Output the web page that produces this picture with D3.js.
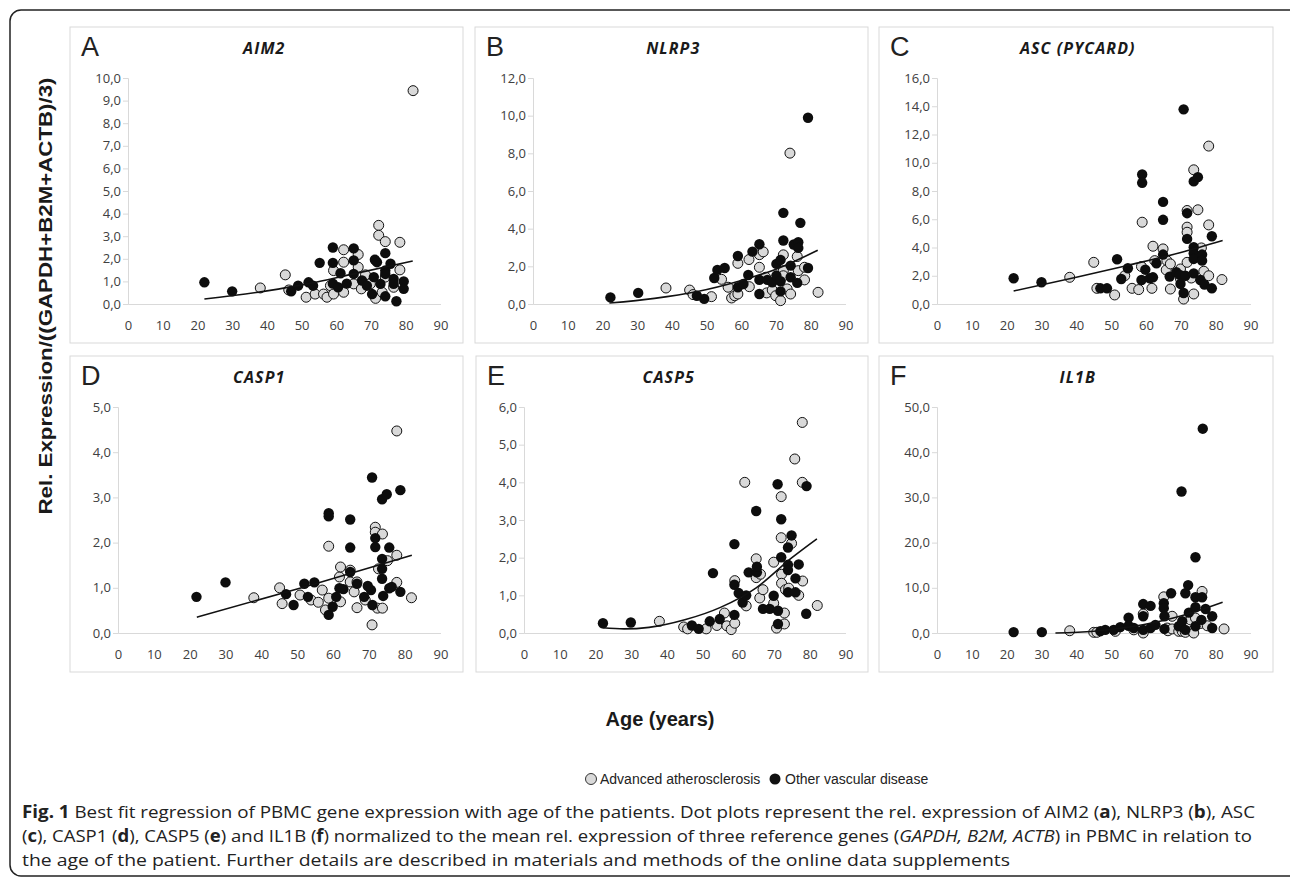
<!DOCTYPE html>
<html>
<head>
<meta charset="utf-8">
<script src="https://cdn.jsdelivr.net/npm/d3@7"></script>
<style>
  body { margin: 0; background: #fff; }
  svg { display: block; }
</style>
</head>
<body>
<div id="chart"></div>
<script>
// values: [age, rel. expression]
const genes = ["AIM2", "NLRP3", "ASC (PYCARD)", "CASP1", "CASP5", "IL1B"]
const letters = ["A", "B", "C", "D", "E", "F"]
const yMax = [10, 12, 16, 5, 6, 50]
const yStep = [1, 2, 2, 1, 1, 10]
const xTicks = [0, 10, 20, 30, 40, 50, 60, 70, 80, 90]

const aim2Ath = [[38.1,0.71],[45.3,1.29],[46.3,0.62],[51.3,0.3],[53.9,0.44],[56.3,0.44],[57.3,0.3],[58.3,0.81],[59.2,0.44],[59.2,1.48],[62.1,2.4],[62.1,1.85],[62.1,0.52],[65,0.89],[66.3,2.19],[66.3,1.63],[67.2,0.67],[68.4,1.29],[69.8,0.89],[71.3,0.25],[72.2,3.48],[72.2,3.04],[73.2,0.52],[74.1,2.76],[74.1,1.19],[76.5,0.74],[78.3,2.73],[78.3,1.51],[82.1,9.44]]
const aim2Other = [[22,0.96],[30,0.56],[47,0.56],[49,0.81],[52,0.96],[53.3,0.81],[55.2,1.82],[59,2.5],[59,1.82],[59,0.9],[60.5,0.74],[61.2,1.36],[63,0.9],[65,2.46],[65,1.93],[65,1.33],[67.4,1.04],[68.8,0.81],[70.3,0.44],[70.8,1.19],[71.1,1.96],[71.7,1.85],[72.7,0.89],[74.1,2.25],[74.1,1.48],[74.1,1.33],[74.1,0.34],[75.6,1.78],[76.5,1.11],[76.5,0.89],[77.3,0.12],[79.4,1.0],[79.4,0.67]]
const aim2Trend = [[22,0.22],[40,0.58],[52,0.9],[64,1.3],[82,1.9]]

const nlrp3Ath = [[38.3,0.85],[45.1,0.74],[46.1,0.5],[51.4,0.39],[54.3,1.31],[56.2,0.89],[57.2,0.32],[58.1,0.44],[59,0.53],[59,2.16],[62.2,2.36],[62.3,0.92],[65.2,1.95],[65.2,2.62],[66.3,2.77],[67,1.42],[67.3,0.59],[68.9,0.74],[69.9,0.44],[71.3,0.18],[72.1,2.61],[72.1,1.77],[72.1,1.5],[73.2,0.8],[74,8.01],[74.2,0.53],[76.1,2.52],[76.4,1.77],[78.2,1.95],[78.2,1.28],[82.1,0.62]]
const nlrp3Other = [[22.3,0.35],[30.3,0.59],[47.2,0.44],[49.3,0.27],[52.2,1.38],[53.1,1.81],[55.2,1.91],[59,2.55],[59,0.89],[60.6,1.06],[62,1.54],[63.2,2.78],[65.2,3.17],[65.2,1.28],[65.2,0.53],[67.5,1.28],[68.9,1.15],[70.1,2.13],[70.1,1.51],[71.3,2.34],[71.3,1.21],[71.3,0.67],[72.1,4.84],[72.1,3.37],[74.2,2.04],[74.2,1.42],[75.1,3.16],[76.1,1.12],[76.4,3.28],[76.4,2.98],[77,4.31],[79.2,1.91],[79.2,9.89]]
const nlrp3Trend = [[22,0.05],[35,0.3],[47,0.65],[60,1.25],[70,1.85],[82,2.85]]

const ascAth = [[38.1,1.89],[45,2.95],[45.9,1.11],[51,0.64],[53.9,2.0],[56,1.11],[57.9,1.02],[58.7,2.65],[58.9,5.79],[61.7,1.11],[62,4.09],[62.5,3.07],[64.9,3.9],[65.8,2.41],[66,3.07],[67,1.06],[67,2.84],[69.9,2.48],[69.9,1.77],[70.8,0.35],[71.8,6.62],[71.8,5.44],[71.8,5.08],[71.8,2.95],[73,1.84],[73.7,0.71],[73.7,9.5],[74.9,6.67],[75.9,3.97],[76.6,2.32],[78,2.0],[78,5.6],[78,11.18],[81.8,1.73]]
const ascOther = [[22,1.82],[30,1.54],[46.9,1.11],[48.8,1.11],[51.7,3.17],[52.9,1.77],[54.8,2.53],[58.7,1.7],[58.9,9.17],[58.9,8.58],[59.8,2.43],[61.1,1.82],[62,1.89],[63,2.88],[64.9,7.23],[64.9,5.96],[64.9,3.5],[66.8,1.94],[68.7,2.25],[69.7,2.06],[69.9,1.42],[70.8,13.78],[70.8,0.78],[71.3,2.0],[71.8,6.43],[71.8,4.61],[73.7,8.68],[73.7,4.02],[73.7,3.59],[73.7,3.19],[73.7,2.17],[74.9,8.98],[75.6,1.7],[76.1,3.5],[76.1,3.07],[76.8,1.37],[78.9,1.11],[78.9,4.8]]
const ascTrend = [[22,0.92],[40,1.9],[55,2.75],[70,3.65],[82,4.5]]

const casp1Ath = [[37.9,0.78],[45.1,1.0],[45.8,0.65],[50.8,0.84],[53.9,0.73],[55.9,0.68],[57,0.95],[57.9,0.51],[58.8,0.77],[58.8,1.92],[61.8,1.24],[62.1,0.69],[62.1,1.46],[64.8,1.39],[64.8,1.13],[65.9,0.91],[66.7,1.13],[66.7,0.56],[69,0.73],[70.9,0.18],[71.8,2.34],[71.8,2.23],[72.4,0.55],[72.7,1.42],[73.8,2.19],[73.8,0.55],[75.2,1.6],[77.8,4.47],[77.8,1.72],[77.8,1.12],[81.9,0.78]]
const casp1Other = [[21.9,0.8],[30,1.12],[46.9,0.86],[49,0.62],[52,1.09],[53,0.8],[54.8,1.12],[58.8,0.4],[58.8,2.65],[58.8,2.58],[59.9,0.58],[60.9,0.8],[61.8,0.99],[62.9,0.97],[64.8,1.35],[64.8,2.51],[64.8,1.89],[66.7,1.09],[68.7,0.8],[69.7,1.04],[70.6,0.95],[70.9,3.44],[71,0.62],[71.8,2.1],[71.8,1.9],[73.7,1.2],[73.7,1.64],[73.7,1.42],[73.7,2.96],[74,0.82],[75,3.07],[75.7,0.99],[75.7,1.89],[76.4,1.02],[78.8,0.91],[78.8,3.16]]
const casp1Trend = [[22,0.35],[52,1.02],[82,1.72]]

const casp5Ath = [[37.9,0.31],[44.7,0.16],[45.8,0.11],[51,0.11],[54,0.2],[56.1,0.53],[56.8,0.19],[58,0.09],[59,0.26],[59,1.39],[61.8,4.0],[62.2,0.72],[65,1.47],[65,1.97],[66,0.93],[66.2,1.56],[66.9,1.15],[69.4,0.68],[69.9,0.79],[69.9,1.88],[70.7,0.13],[72,3.62],[72,2.53],[72.1,1.56],[72.1,1.32],[72.9,0.24],[72.9,0.53],[73.2,1.15],[74.1,1.19],[74.9,2.38],[75.8,4.62],[76.9,1.0],[77.9,5.59],[77.9,4.0],[78,1.38],[82.1,0.73]]
const casp5Other = [[22.1,0.26],[29.9,0.28],[47,0.2],[48.9,0.11],[52,0.31],[52.9,1.59],[54.8,0.37],[58.9,0.48],[58.9,1.28],[58.9,2.36],[60.1,1.06],[61.2,0.81],[62.2,1.0],[62.9,1.61],[65,3.24],[65.2,1.61],[65.2,1.76],[66.9,0.64],[68.8,0.64],[69.9,0.99],[71,3.95],[71.1,0.59],[71.1,0.24],[72,3.02],[72,2.01],[73.9,1.81],[73.9,1.67],[73.9,1.08],[73.9,2.27],[74.9,2.59],[76,1.45],[76,1.08],[76.9,1.82],[79,0.51],[79.1,3.9]]
const casp5Trend = [[22,0.14],[28,0.11],[35,0.15],[45,0.35],[55,0.68],[65,1.2],[75,2.0],[82,2.5]]

const il1bAth = [[38.1,0.5],[45,0.15],[45.9,0.15],[51.2,0.37],[56.5,0.7],[59.2,4.2],[59.2,0],[65.1,8.0],[66.1,1.1],[66.3,0.5],[67.5,3.7],[67.5,0.9],[69.4,0.37],[70.4,0.37],[71.3,0.15],[72.8,2.9],[73.2,0.37],[73.7,0],[74.2,3.3],[75.6,2.1],[76.1,9.2],[77.6,1.6],[82.4,0.9]]
const il1bOther = [[22,0.2],[30.1,0.2],[46.9,0.4],[48.3,0.7],[50.7,0.7],[52.6,1.3],[55,3.4],[55,1.6],[56.5,1.1],[59.2,6.4],[59.2,3.7],[59.2,0.7],[61.3,6.0],[61.3,1.1],[62.7,1.8],[65.1,6.6],[65.1,5.5],[65.3,3.7],[65.3,0.9],[67.2,8.8],[69.4,1.5],[70.2,31.3],[70.4,2.6],[71.3,8.8],[71.3,0.7],[72.1,10.6],[72.3,4.5],[74.2,16.75],[74.2,7.9],[74.2,5.7],[74.2,1.5],[75.9,2.9],[76.1,7.9],[76.3,45.2],[77.1,5.3],[79,3.7],[79,1.1]]
const il1bTrend = [[34,0],[45,0.4],[55,1.3],[64,2.6],[72,4.2],[82,6.8]]

const athSeries = [aim2Ath, nlrp3Ath, ascAth, casp1Ath, casp5Ath, il1bAth]
const otherSeries = [aim2Other, nlrp3Other, ascOther, casp1Other, casp5Other, il1bOther]
const trends = [aim2Trend, nlrp3Trend, ascTrend, casp1Trend, casp5Trend, il1bTrend]

const width = 1290
const height = 883

// panel boxes [left, top, right, bottom]
const boxes = [
    [70, 27, 463, 343], [475, 27, 868, 343], [879, 27, 1273, 343],
    [70, 356, 463, 672], [476, 356, 868, 672], [879, 356, 1273, 672]
]

const tickFont = "'Open Sans', sans-serif"
const fmt = d => d.toFixed(1).replace(".", ",")

const svg = d3.select("#chart")
    .append("svg")
    .attr("width", width)
    .attr("height", height)

// outer frame of the figure
svg.append("rect")
    .attr("x", 10).attr("y", 10)
    .attr("width", 1290).attr("height", 866)
    .attr("rx", 11)
    .attr("fill", "none")
    .attr("stroke", "#222")
    .attr("stroke-width", 1.5)

genes.forEach((gene, i) => {
    const [bl, bt, br, bb] = boxes[i]
    // 3-char tick labels leave a narrower left margin than 4-char ones
    const left = fmt(yMax[i]).length > 3 ? 58 : 48
    const plotL = bl + left, plotR = br - 22.5
    const plotT = bt + 51, plotB = bb - 39

    const g = svg.append("g")

    g.append("rect")
        .attr("x", bl).attr("y", bt)
        .attr("width", br - bl).attr("height", bb - bt)
        .attr("fill", "#fff")
        .attr("stroke", "#d9d9d9")

    const x = d3.scaleLinear().domain([0, 90]).range([plotL, plotR])
    const y = d3.scaleLinear().domain([0, yMax[i]]).range([plotB, plotT])

    const yAxis = g.append("g")
        .attr("transform", `translate(${plotL},0)`)
        .call(d3.axisLeft(y)
            .tickValues(d3.range(0, yMax[i] + yStep[i] / 2, yStep[i]))
            .tickFormat(fmt)
            .tickSize(5)
            .tickPadding(2))
    yAxis.select(".domain").attr("stroke", "#d9d9d9")
    yAxis.selectAll(".tick line").attr("stroke", "#d9d9d9")
    yAxis.selectAll("text")
        .attr("fill", "#404040")
        .style("font", `13px ${tickFont}`)

    const xAxis = g.append("g")
        .attr("transform", `translate(0,${plotB})`)
        .call(d3.axisBottom(x)
            .tickValues(xTicks)
            .tickSize(0)
            .tickPadding(17))
    xAxis.select(".domain").attr("stroke", "#d9d9d9")
    xAxis.selectAll("text")
        .attr("fill", "#404040")
        .style("font", `13px ${tickFont}`)

    g.append("text")
        .attr("x", bl + 11)
        .attr("y", bt + 29)
        .style("font", "27px 'Liberation Sans', Arial, sans-serif")
        .attr("fill", "#222")
        .text(letters[i])

    g.append("text")
        .attr("x", (plotL + plotR) / 2 + (i % 3 === 0 ? -20 : -16))
        .attr("y", bt + 27)
        .attr("text-anchor", "middle")
        .style("font", `italic bold 16px ${tickFont}`)
        .style("letter-spacing", "1.1px")
        .attr("fill", "#1a1a1a")
        .text(gene)

    g.append("g")
        .selectAll("circle")
        .data(athSeries[i])
        .join("circle")
        .attr("cx", d => x(d[0]))
        .attr("cy", d => y(d[1]))
        .attr("r", 5)
        .attr("fill", "#d9d9d9")
        .attr("stroke", "#111")
        .attr("stroke-width", 1)

    g.append("g")
        .selectAll("circle")
        .data(otherSeries[i])
        .join("circle")
        .attr("cx", d => x(d[0]))
        .attr("cy", d => y(d[1]))
        .attr("r", 5.2)
        .attr("fill", "#0d0d0d")

    const line = d3.line()
        .x(d => x(d[0]))
        .y(d => y(d[1]))
        .curve(d3.curveMonotoneX)

    g.append("path")
        .datum(trends[i])
        .attr("d", line)
        .attr("fill", "none")
        .attr("stroke", "#111")
        .attr("stroke-width", 1.6)
})

// shared axis titles
svg.append("text")
    .attr("transform", "translate(52,296) rotate(-90)")
    .attr("text-anchor", "middle")
    .attr("textLength", 437)
    .attr("lengthAdjust", "spacingAndGlyphs")
    .style("font", "bold 19px 'Liberation Sans', Arial, sans-serif")
    .attr("fill", "#1a1a1a")
    .text("Rel. Expression/((GAPDH+B2M+ACTB)/3)")

svg.append("text")
    .attr("x", 660).attr("y", 726)
    .attr("text-anchor", "middle")
    .style("font", "bold 20px 'Liberation Sans', Arial, sans-serif")
    .attr("fill", "#1a1a1a")
    .text("Age (years)")

// legend
const legend = svg.append("g")
    .style("font", "14px 'Liberation Sans', Arial, sans-serif")
legend.append("circle").attr("cx", 591).attr("cy", 779).attr("r", 5.5)
    .attr("fill", "#d9d9d9").attr("stroke", "#333")
legend.append("text").attr("x", 600).attr("y", 784).attr("fill", "#222")
    .text("Advanced atherosclerosis")
legend.append("circle").attr("cx", 775).attr("cy", 779).attr("r", 5.5)
    .attr("fill", "#111")
legend.append("text").attr("x", 785).attr("y", 784).attr("fill", "#222")
    .text("Other vascular disease")

// caption, one text element per printed line
const capLines = [
    [["Fig. 1", "b"], [" Best fit regression of PBMC gene expression with age of the patients. Dot plots represent the rel. expression of AIM2 ("], ["a", "b"], ["), NLRP3 ("], ["b", "b"], ["), ASC"]],
    [["("], ["c", "b"], ["), CASP1 ("], ["d", "b"], ["), CASP5 ("], ["e", "b"], [") and IL1B ("], ["f", "b"], [") normalized to the mean rel. expression of three reference genes ("], ["GAPDH, B2M, ACTB", "i"], [") in PBMC in relation to"]],
    [["the age of the patient. Further details are described in materials and methods of the online data supplements"]]
]
const capWidths = [1233, 1230, 988]
capLines.forEach((parts, li) => {
    const t = svg.append("text")
        .attr("x", 22).attr("y", 818 + li * 24)
        .attr("textLength", capWidths[li])
        .attr("lengthAdjust", "spacingAndGlyphs")
        .style("font", "17px 'Open Sans', sans-serif")
        .attr("fill", "#222")
    parts.forEach(p => {
        const ts = t.append("tspan").text(p[0])
        if (p[1] === "b") ts.style("font-weight", "bold")
        if (p[1] === "i") ts.style("font-style", "italic")
    })
})
</script>
</body>
</html>
